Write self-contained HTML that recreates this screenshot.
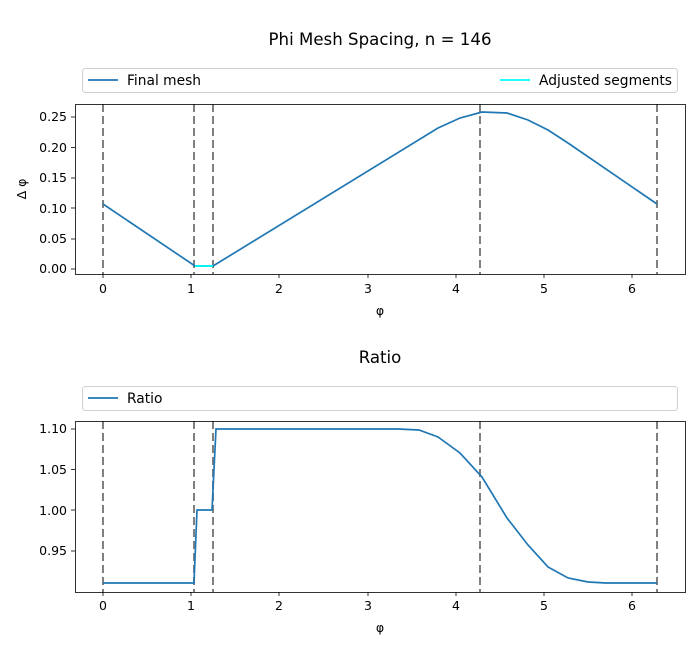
<!DOCTYPE html><html><head><style>body{margin:0;background:#fff}svg text{font-family:"DejaVu Sans","Liberation Sans",sans-serif;fill:#000}</style></head><body>
<svg width="700" height="650" xmlns="http://www.w3.org/2000/svg">
<text x="380" y="45" font-size="16.6" text-anchor="middle" textLength="223">Phi Mesh Spacing, n = 146</text>
<rect x="82.5" y="68.5" width="595" height="24" rx="3" fill="#fff" stroke="#d0d0d0"/>
<line x1="88" y1="80" x2="118" y2="80" stroke="#1f77b4" stroke-width="1.7"/>
<text x="127" y="85" font-size="13.8">Final mesh</text>
<line x1="500" y1="80" x2="530" y2="80" stroke="#00ffff" stroke-width="1.7"/>
<text x="539" y="85" font-size="13.8" textLength="133">Adjusted segments</text>
<g stroke="#808080" stroke-width="2" stroke-dasharray="8,4">
<line x1="103" y1="104" x2="103" y2="274"/><line x1="194" y1="104" x2="194" y2="274"/><line x1="213" y1="104" x2="213" y2="274"/><line x1="480" y1="104" x2="480" y2="274"/><line x1="657" y1="104" x2="657" y2="274"/>
</g>
<polyline fill="none" stroke="#1f77b4" stroke-width="1.7" points="103,204 195,266 213,266 438,128 460,118 482,112 507,113 528,120 548,130 568,143 657,204"/>
<line x1="195" y1="266" x2="213" y2="266" stroke="#00ffff" stroke-width="1.7"/>
<rect x="75.5" y="104.5" width="610" height="170" fill="none" stroke="#000" stroke-width="0.8"/>
<g font-size="12.5" text-anchor="end">
<text x="67" y="121">0.25</text><text x="67" y="152">0.20</text><text x="67" y="182">0.15</text><text x="67" y="213">0.10</text><text x="67" y="243">0.05</text><text x="67" y="273">0.00</text></g>
<g stroke="#000" stroke-width="0.8"><line x1="71" y1="117" x2="75" y2="117"/><line x1="71" y1="147.5" x2="75" y2="147.5"/><line x1="71" y1="178" x2="75" y2="178"/><line x1="71" y1="208" x2="75" y2="208"/><line x1="71" y1="239" x2="75" y2="239"/><line x1="71" y1="269" x2="75" y2="269"/></g>
<g font-size="12.5" text-anchor="middle">
<text x="103" y="293">0</text><text x="191" y="293">1</text><text x="279" y="293">2</text><text x="368" y="293">3</text><text x="456" y="293">4</text><text x="544" y="293">5</text><text x="632" y="293">6</text>
<text x="380" y="315">φ</text></g>
<g stroke="#000" stroke-width="0.8"><line x1="103" y1="274" x2="103" y2="278"/><line x1="191" y1="274" x2="191" y2="278"/><line x1="279" y1="274" x2="279" y2="278"/><line x1="368" y1="274" x2="368" y2="278"/><line x1="456" y1="274" x2="456" y2="278"/><line x1="544" y1="274" x2="544" y2="278"/><line x1="632" y1="274" x2="632" y2="278"/></g>
<text transform="translate(26,189) rotate(-90)" font-size="12.5" text-anchor="middle">Δ φ</text>

<text x="380" y="363" font-size="16.6" text-anchor="middle">Ratio</text>
<rect x="82.5" y="386.5" width="595" height="24" rx="3" fill="#fff" stroke="#d0d0d0"/>
<line x1="88" y1="398" x2="118" y2="398" stroke="#1f77b4" stroke-width="1.7"/>
<text x="127" y="403" font-size="13.8">Ratio</text>
<g stroke="#808080" stroke-width="2" stroke-dasharray="8,4">
<line x1="103" y1="421" x2="103" y2="592"/><line x1="194" y1="421" x2="194" y2="592"/><line x1="213" y1="421" x2="213" y2="592"/><line x1="480" y1="421" x2="480" y2="592"/><line x1="657" y1="421" x2="657" y2="592"/>
</g>
<polyline fill="none" stroke="#1f77b4" stroke-width="1.7" points="103,583 194,583 197,510 212,510 216,429 398,429 419,430 438,437 460,453 482,477 507,518 528,545 548,567 568,578 588,582 606,583 657,583"/>
<rect x="75.5" y="421.5" width="610" height="171" fill="none" stroke="#000" stroke-width="0.8"/>
<g font-size="12.5" text-anchor="end">
<text x="67" y="433">1.10</text><text x="67" y="474">1.05</text><text x="67" y="515">1.00</text><text x="67" y="555">0.95</text></g>
<g stroke="#000" stroke-width="0.8"><line x1="71" y1="429" x2="75" y2="429"/><line x1="71" y1="469.5" x2="75" y2="469.5"/><line x1="71" y1="510" x2="75" y2="510"/><line x1="71" y1="551" x2="75" y2="551"/></g>
<g font-size="12.5" text-anchor="middle">
<text x="103" y="610">0</text><text x="191" y="610">1</text><text x="279" y="610">2</text><text x="368" y="610">3</text><text x="456" y="610">4</text><text x="544" y="610">5</text><text x="632" y="610">6</text>
<text x="380" y="632">φ</text></g>
<g stroke="#000" stroke-width="0.8"><line x1="103" y1="592" x2="103" y2="596"/><line x1="191" y1="592" x2="191" y2="596"/><line x1="279" y1="592" x2="279" y2="596"/><line x1="368" y1="592" x2="368" y2="596"/><line x1="456" y1="592" x2="456" y2="596"/><line x1="544" y1="592" x2="544" y2="596"/><line x1="632" y1="592" x2="632" y2="596"/></g>
</svg>
</body></html>
